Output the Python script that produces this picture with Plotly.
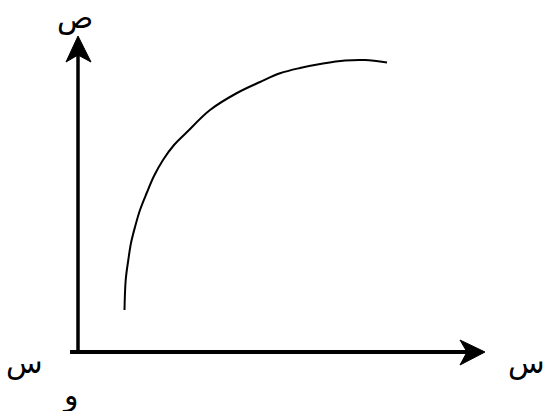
import plotly.graph_objects as go

# curve values (units relative to the origin)
curve_x = [46.5, 47.7, 50.3, 53, 57, 62, 68.7, 76, 85, 96, 109, 132, 159, 182, 202, 222, 245, 267, 287, 309]
curve_y = [42, 72, 92, 109, 125, 142, 159, 176, 192, 207, 220, 242, 259, 270, 278.7, 284, 288.5, 291.5, 292, 289.5]

# axis labels
label_text = ['ص', 'س', 'س', 'و']
label_x = [-3, -54, 448, -8]
label_y = [352, -11, -11, -43]
label_anchor = ['top', 'middle', 'middle', 'middle']

fig = go.Figure()

fig.add_trace(go.Scatter(
    x=curve_x, y=curve_y, mode='lines',
    line=dict(color='black', width=2, shape='spline', smoothing=1.0),
    hoverinfo='skip', showlegend=False
))

# axes
fig.add_shape(type='line', x0=-8, y0=0, x1=392, y1=0,
              line=dict(color='black', width=4))
fig.add_shape(type='line', x0=0, y0=-1, x1=0, y1=300,
              line=dict(color='black', width=3.5))

# arrow heads
fig.add_shape(type='path', path='M 0 316 L -12 290 L 0 297 L 13 290 Z',
              fillcolor='black', line=dict(color='black', width=1))
fig.add_shape(type='path', path='M 407 0 L 382 12 L 389 0 L 382 -13 Z',
              fillcolor='black', line=dict(color='black', width=1))

for t, x, y, a in zip(label_text, label_x, label_y, label_anchor):
    fig.add_annotation(x=x, y=y, text=t, showarrow=False, yanchor=a, borderpad=0,
                       font=dict(family='Arial, DejaVu Sans', size=30, color='black'))

fig.update_layout(
    width=546, height=411,
    margin=dict(l=0, r=0, t=0, b=0),
    paper_bgcolor='white', plot_bgcolor='white',
    xaxis=dict(range=[-78, 468], visible=False, fixedrange=True),
    yaxis=dict(range=[-59, 352], visible=False, fixedrange=True),
)

fig.write_html("out.html", config={'displayModeBar': False},
               post_script="document.body.style.margin='0';")
